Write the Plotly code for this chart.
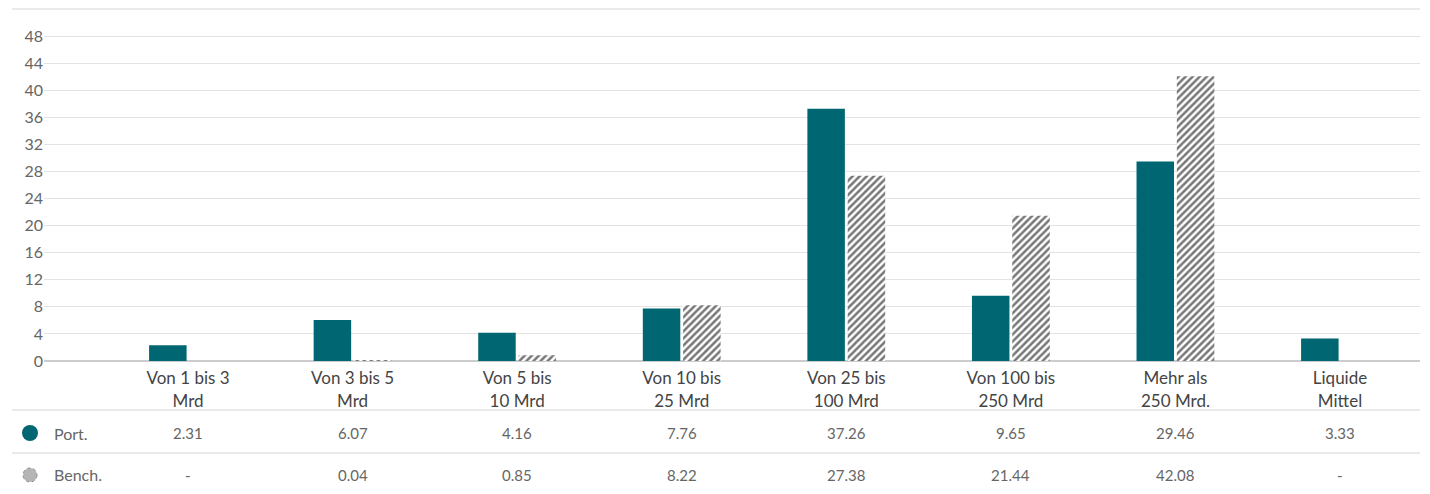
import plotly.graph_objects as go

categories = ["Von 1 bis 3<br>Mrd", "Von 3 bis 5<br>Mrd", "Von 5 bis<br>10 Mrd", "Von 10 bis<br>25 Mrd",
              "Von 25 bis<br>100 Mrd", "Von 100 bis<br>250 Mrd", "Mehr als<br>250 Mrd.", "Liquide<br>Mittel"]
port = [2.31, 6.07, 4.16, 7.76, 37.26, 9.65, 29.46, 3.33]
bench = [None, 0.04, 0.85, 8.22, 27.38, 21.44, 42.08, None]
series_names = ["Port.", "Bench."]
y_ticks = [0, 4, 8, 12, 16, 20, 24, 28, 32, 36, 40, 44, 48]

TEAL = "#006672"
FONT = "Source Sans Pro, Lato, Noto Sans, sans-serif"
xs = list(range(len(categories)))

fig = go.Figure()
fig.add_trace(go.Bar(x=xs, y=port, name=series_names[0], marker=dict(color=TEAL, line=dict(width=0))))
fig.add_trace(go.Bar(x=xs, y=bench, name=series_names[1],
                     marker=dict(color="white", line=dict(width=0),
                                 pattern=dict(shape="/", fgcolor="#777777", bgcolor="white",
                                              size=5, solidity=0.5, fillmode="replace"))))

W, H = 1430, 494
L, R, T, B = 44, 10, 9, 133
pw = W - L - R
ph = H - T - B
x0c, x7c = 188, 1340
ux = (x7c - x0c) / 7
xr = [(L - x0c) / ux, (W - R - x0c) / ux]

def py(px):
    return (H - B - px) / ph

def pxp(px):
    return (px - L) / pw

shapes = []
for ypx in [9, 410, 453]:
    shapes.append(dict(type="line", xref="paper", yref="paper", x0=pxp(12), x1=1, y0=py(ypx), y1=py(ypx),
                       line=dict(color="#e3e3e3", width=1.3)))
# legend markers
shapes.append(dict(type="circle", xref="paper", yref="paper", xsizemode="pixel", ysizemode="pixel",
                   xanchor=pxp(30), yanchor=py(433), x0=-8, x1=8, y0=-8, y1=8,
                   fillcolor=TEAL, line=dict(width=0)))
shapes.append(dict(type="circle", xref="paper", yref="paper", xsizemode="pixel", ysizemode="pixel",
                   xanchor=pxp(30), yanchor=py(475), x0=-7, x1=7, y0=-7, y1=7,
                   fillcolor="#b5b5b5", line=dict(width=1, color="#8a8a8a", dash="dot")))

annotations = []
for name, ypx in zip(series_names, [433, 475]):
    annotations.append(dict(xref="paper", yref="paper", x=pxp(52), y=py(ypx), text=name, showarrow=False,
                            xanchor="left", yanchor="middle", font=dict(family=FONT, size=16, color="#666")))
for vals, ypx in zip([port, bench], [433, 475]):
    for i, v in enumerate(vals):
        t = "-" if v is None else f"{v:.2f}"
        annotations.append(dict(xref="x", yref="paper", x=i, y=py(ypx), text=t, showarrow=False,
                                xanchor="center", yanchor="middle", font=dict(family=FONT, size=15, color="#666")))

fig.update_layout(
    width=W, height=H, margin=dict(l=L, r=R, t=T, b=B, autoexpand=False),
    paper_bgcolor="white", plot_bgcolor="white",
    barmode="group", bargap=0.51, bargroupgap=0.07,
    showlegend=False,
    font=dict(family=FONT, size=15, color="#555"),
    xaxis=dict(range=xr, tickvals=xs, ticktext=categories, showgrid=False, zeroline=False,
               showline=False, ticks="outside", ticklen=2, tickcolor="rgba(0,0,0,0)",
               tickfont=dict(family=FONT, size=17, color="#444")),
    yaxis=dict(range=[0, 52], tickvals=y_ticks, showgrid=True, gridcolor="#e3e3e3", gridwidth=1,
               zeroline=True, zerolinecolor="#cccccc", zerolinewidth=1.5,
               ticks="", tickfont=dict(family=FONT, size=16, color="#666")),
    shapes=shapes, annotations=annotations,
)
fig.write_html("out.html", config={"displayModeBar": False},
               post_script="document.body.style.margin='0';document.body.style.padding='0';")
